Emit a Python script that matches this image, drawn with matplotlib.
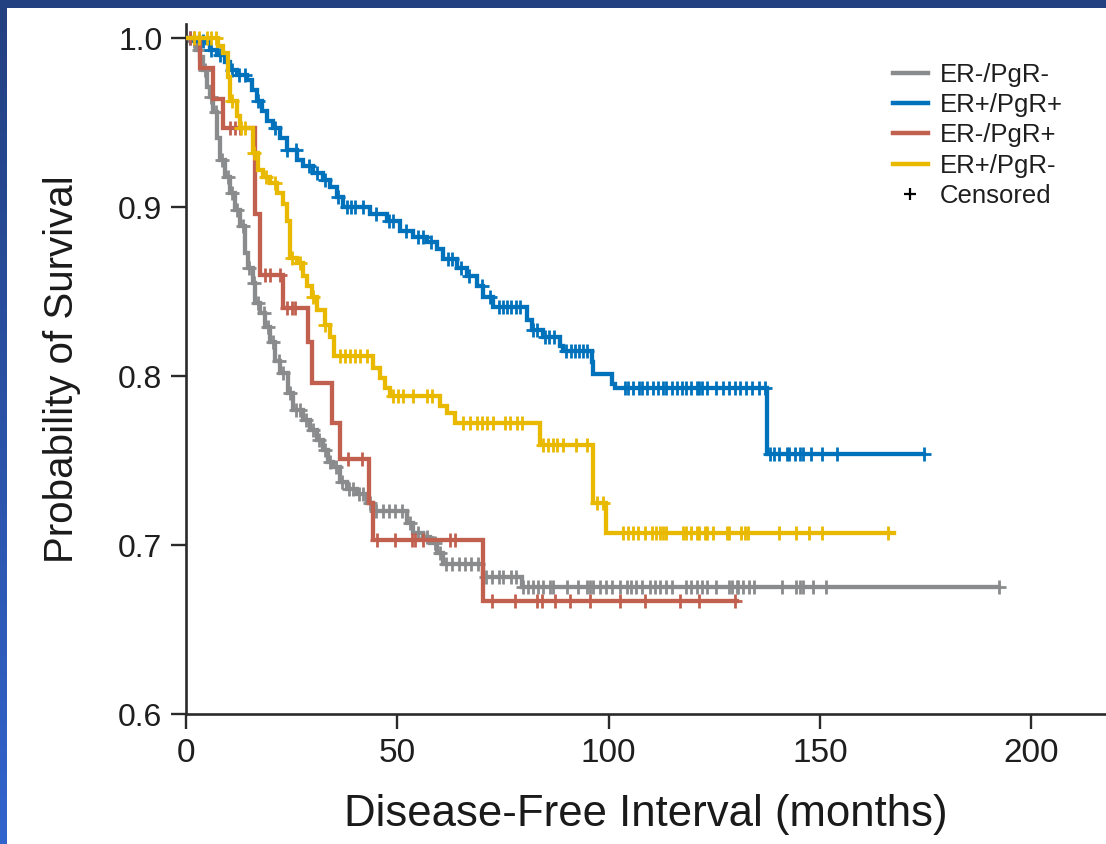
import numpy as np
import matplotlib
matplotlib.use("Agg")
import matplotlib.pyplot as plt
from matplotlib.lines import Line2D
from matplotlib.patches import Rectangle

plt.rcParams['font.family'] = ['Liberation Sans', 'DejaVu Sans']

# ---------------- data (months, survival probability after each event) ----------------
labels = ["ER-/PgR-", "ER+/PgR+", "ER-/PgR+", "ER+/PgR-"]
colors = ["#8a8b8c", "#0072bb", "#c1604f", "#e9b900"]

gray_t = [0.95, 2.4, 3.3, 4.0, 5.0, 5.7, 6.4, 7.3, 8.0, 9.2, 10.4, 11.6, 12.8, 13.9, 14.7, 15.8,
          16.3, 17.5, 18.7, 19.9, 21.0, 22.2, 24.1, 25.3, 27.7, 29.3, 31.0, 32.4, 33.6, 34.8,
          36.4, 38.1, 40.4, 42.8, 44.2, 52.2, 53.7, 56.0, 57.7, 59.3, 60.8, 70.2, 79.4]
gray_s = [0.998, 0.993, 0.989, 0.981, 0.971, 0.965, 0.956, 0.941, 0.928, 0.918, 0.908, 0.898,
          0.889, 0.873, 0.864, 0.855, 0.843, 0.837, 0.829, 0.820, 0.809, 0.802, 0.790, 0.780,
          0.774, 0.768, 0.762, 0.756, 0.749, 0.746, 0.737, 0.733, 0.730, 0.725, 0.720, 0.713,
          0.707, 0.705, 0.701, 0.695, 0.689, 0.681, 0.675]
gray_end = 192.4
gray_cens = [2, 3, 4.5, 6, 7, 8.5, 10, 11, 12, 13.5, 15, 16, 17, 18.5, 19.5, 20.5, 22, 23, 24.5,
             26, 27, 28.5, 30, 31.5, 33, 34, 35.5, 37, 38.5, 39.5, 41, 42, 43.5, 45, 46.5, 48,
             49.5, 51, 53, 55, 57, 59, 60, 61.5, 63, 64.5, 66, 67.5, 69, 71, 72.5, 74, 75, 77,
             78, 79.7, 80.9, 82.0, 83.2, 84.4, 86.1, 86.8, 90.1, 92.7, 94.8, 95.5, 96.2, 97.9,
             99.5, 100.9, 102.6, 104.3, 105.4, 106.6, 108.0, 109.7, 110.9, 112.1, 113.7, 114.9,
             118.4, 119.6, 120.8, 122.2, 123.4, 125.5, 128.6, 129.3, 130.3, 130.7, 131.7, 133.3,
             134.5, 141.1, 144.4, 145.2, 145.9, 148.3, 151.5, 192.4]

blue_t = [2.1, 5.0, 5.7, 7.3, 9.2, 10.4, 12.1, 14.4, 15.6, 16.8, 18.0, 19.1, 20.6, 22.2, 23.9,
          26.2, 27.7, 30.0, 32.4, 34.0, 35.7, 37.1, 43.5, 47.5, 50.6, 53.7, 57.0, 59.3, 60.8,
          64.1, 66.4, 68.8, 70.2, 72.6, 80.6, 81.8, 84.4, 88.4, 89.1, 96.0, 96.2, 100.9, 101.4,
          137.4]
blue_s = [0.998, 0.997, 0.993, 0.990, 0.986, 0.981, 0.978, 0.975, 0.969, 0.963, 0.957, 0.951,
          0.947, 0.941, 0.934, 0.928, 0.924, 0.920, 0.916, 0.912, 0.906, 0.900, 0.896, 0.892,
          0.886, 0.882, 0.879, 0.875, 0.869, 0.864, 0.859, 0.853, 0.847, 0.841, 0.833, 0.827,
          0.823, 0.818, 0.815, 0.808, 0.801, 0.795, 0.793, 0.754]
blue_end = 174.7
blue_cens = [1, 3, 4, 6, 8, 11, 12.5, 14, 17, 21, 24, 26, 29, 31, 33, 36, 38, 39, 40, 42, 45, 48,
             49, 52, 55, 56, 58, 62, 63, 65, 67, 70, 72, 74, 75, 76, 77, 78, 79, 82, 83, 85, 86,
             87, 90, 91, 92, 93, 94, 95, 103.8, 104.5, 105.7, 107.3, 108.0, 109.2, 110.4, 111.6,
             112.8, 113.7, 115.1, 116.1, 117.3, 118.4, 119.6, 120.8, 121.5, 122.2, 123.2, 125.5,
             127.0, 128.6, 129.8, 131.0, 132.6, 134.0, 135.7, 136.9, 138.1, 139.2, 140.4, 142.1,
             142.8, 144.0, 145.2, 145.9, 148.0, 150.4, 154.1, 174.7]

red_t = [3.3, 6.4, 8.7, 16.3, 17.5, 22.9, 28.8, 29.8, 34.5, 36.4, 43.3, 44.2, 70.2]
red_s = [0.982, 0.964, 0.947, 0.896, 0.860, 0.840, 0.820, 0.796, 0.772, 0.751, 0.725, 0.703, 0.667]
red_end = 130.3
red_cens = [1, 2, 10.5, 11.5, 12.8, 18.7, 19.9, 22.2, 23.9, 25.1, 25.8, 38.3, 41.6, 45.2, 49.4,
            53.4, 54.1, 56.0, 62.4, 63.6, 72.3, 77.8, 83.0, 84.2, 87.2, 90.8, 95.5, 102.6,
            108.5, 116.8, 121.5, 129.8]

yel_t = [7.6, 8.7, 9.9, 10.4, 12.1, 12.8, 15.8, 17.0, 18.2, 19.9, 21.5, 22.9, 23.9, 24.6, 26.2,
         27.7, 28.6, 29.8, 31.0, 32.9, 34.0, 35.0, 44.2, 45.9, 47.0, 48.2, 60.0, 61.7, 63.6,
         83.7, 96.2, 99.5]
yel_s = [0.995, 0.991, 0.977, 0.963, 0.954, 0.947, 0.932, 0.922, 0.918, 0.914, 0.908, 0.902,
         0.892, 0.870, 0.867, 0.859, 0.853, 0.847, 0.839, 0.830, 0.823, 0.812, 0.805, 0.799,
         0.793, 0.788, 0.782, 0.778, 0.772, 0.759, 0.725, 0.707]
yel_end = 167.6
yel_cens = [2, 3, 5, 6, 7, 11, 13, 14, 16, 19, 21, 25, 27, 30, 33, 36.4, 37.6, 38.8, 40.0, 41.1,
            42.8, 48.9, 50.1, 51.3, 53.7, 57.0, 58.2, 65.5, 67.1, 68.8, 70.0, 71.2, 72.6, 75.4,
            76.6, 78.3, 79.5, 84.4, 85.6, 86.8, 87.9, 89.1, 92.4, 95.0, 97.2, 98.6, 103.3, 104.5,
            105.7, 106.9, 108.5, 110.2, 111.3, 112.1, 112.8, 113.7, 117.5, 118.4, 119.6, 120.8,
            121.5, 122.7, 123.4, 124.6, 127.9, 128.6, 131.4, 132.2, 132.9, 140.4, 144.4, 147.5,
            150.4, 166.0]

x_ticks = [0, 50, 100, 150, 200]
y_ticks = [0.6, 0.7, 0.8, 0.9, 1.0]
y_tick_labels = ["0.6", "0.7", "0.8", "0.9", "1.0"]
x_label = "Disease-Free Interval (months)"
y_label = "Probability of Survival"
cens_label = "Censored"

series = [
    (gray_t, gray_s, gray_end, gray_cens),
    (blue_t, blue_s, blue_end, blue_cens),
    (red_t, red_s, red_end, red_cens),
    (yel_t, yel_s, yel_end, yel_cens),
]

# ---------------- figure ----------------
W, H = 1106, 844
fig = plt.figure(figsize=(W / 100, H / 100), dpi=100)

# slide background: blue gradient with a white panel
bg = fig.add_axes([0, 0, 1, 1], zorder=-10)
grad = np.linspace(0, 1, 256).reshape(-1, 1)
top_c = np.array([35, 64, 128]) / 255
bot_c = np.array([50, 100, 205]) / 255
img = top_c[None, None, :] * (1 - grad[:, :, None]) + bot_c[None, None, :] * grad[:, :, None]
bg.imshow(img, aspect='auto', extent=[0, 1, 0, 1], origin='upper')
bg.add_patch(Rectangle((7 / W, 0), 1, (H - 8) / H, facecolor='white', edgecolor='none'))
bg.set_xlim(0, 1)
bg.set_ylim(0, 1)
bg.axis('off')

left_px, right_px, bottom_px, top_px = 186, 1106, 714, 24
ax = fig.add_axes([left_px / W, (H - bottom_px) / H, (right_px - left_px) / W,
                   (bottom_px - top_px) / H])
ax.set_facecolor('none')
ax.set_xlim(0, 217.7)
ax.set_ylim(0.6, 1.0 + 14 / 1690)

order = [2, 0, 1, 3]
for i in order:
    t, s, tend, cens = series[i]
    tt = np.concatenate([[0.0], t, [tend]])
    ss = np.concatenate([[1.0], s, [s[-1]]])
    ax.step(tt, ss, where='post', color=colors[i], lw=3.1, solid_joinstyle='miter', zorder=2 + i)
    ct = np.asarray(cens, dtype=float)
    idx = np.searchsorted(tt, ct, side='right') - 1
    cs = ss[np.clip(idx, 0, len(ss) - 1)]
    ax.plot(ct, cs, linestyle='none', marker='+', ms=10.5, mew=2.0, color=colors[i], zorder=2 + i)

for sp in ['top', 'right']:
    ax.spines[sp].set_visible(False)
for sp in ['left', 'bottom']:
    ax.spines[sp].set_linewidth(1.9)
    ax.spines[sp].set_color('#2a2a2a')

ax.set_xticks(x_ticks)
ax.set_xticklabels([str(v) for v in x_ticks], fontsize=24, color='#1e1e1e')
ax.set_yticks(y_ticks)
ax.set_yticklabels(y_tick_labels, fontsize=23, color='#1e1e1e')
ax.tick_params(axis='both', direction='out', length=11, width=1.7, color='#2a2a2a')
ax.tick_params(axis='x', pad=6)
ax.tick_params(axis='y', pad=6)

ax.set_xlabel(x_label, fontsize=31.5, color='#1a1a1a', labelpad=18)
ax.set_ylabel(y_label, fontsize=29, color='#1a1a1a', labelpad=27)

handles = [Line2D([0], [0], color=colors[i], lw=3.2) for i in range(4)]
handles.append(Line2D([0], [0], color='black', marker='+', linestyle='none', ms=8, mew=1.6))
leg = fig.legend(handles, labels + [cens_label], loc='upper left',
                 bbox_transform=fig.transFigure,
                 bbox_to_anchor=(893 / W, 1 - 63 / H), frameon=False, fontsize=18.5,
                 handlelength=1.36, handletextpad=0.47, labelspacing=0.24,
                 borderpad=0, borderaxespad=0)
for txt in leg.get_texts():
    txt.set_color('#1e1e1e')

fig.savefig("out.png", dpi=100)
